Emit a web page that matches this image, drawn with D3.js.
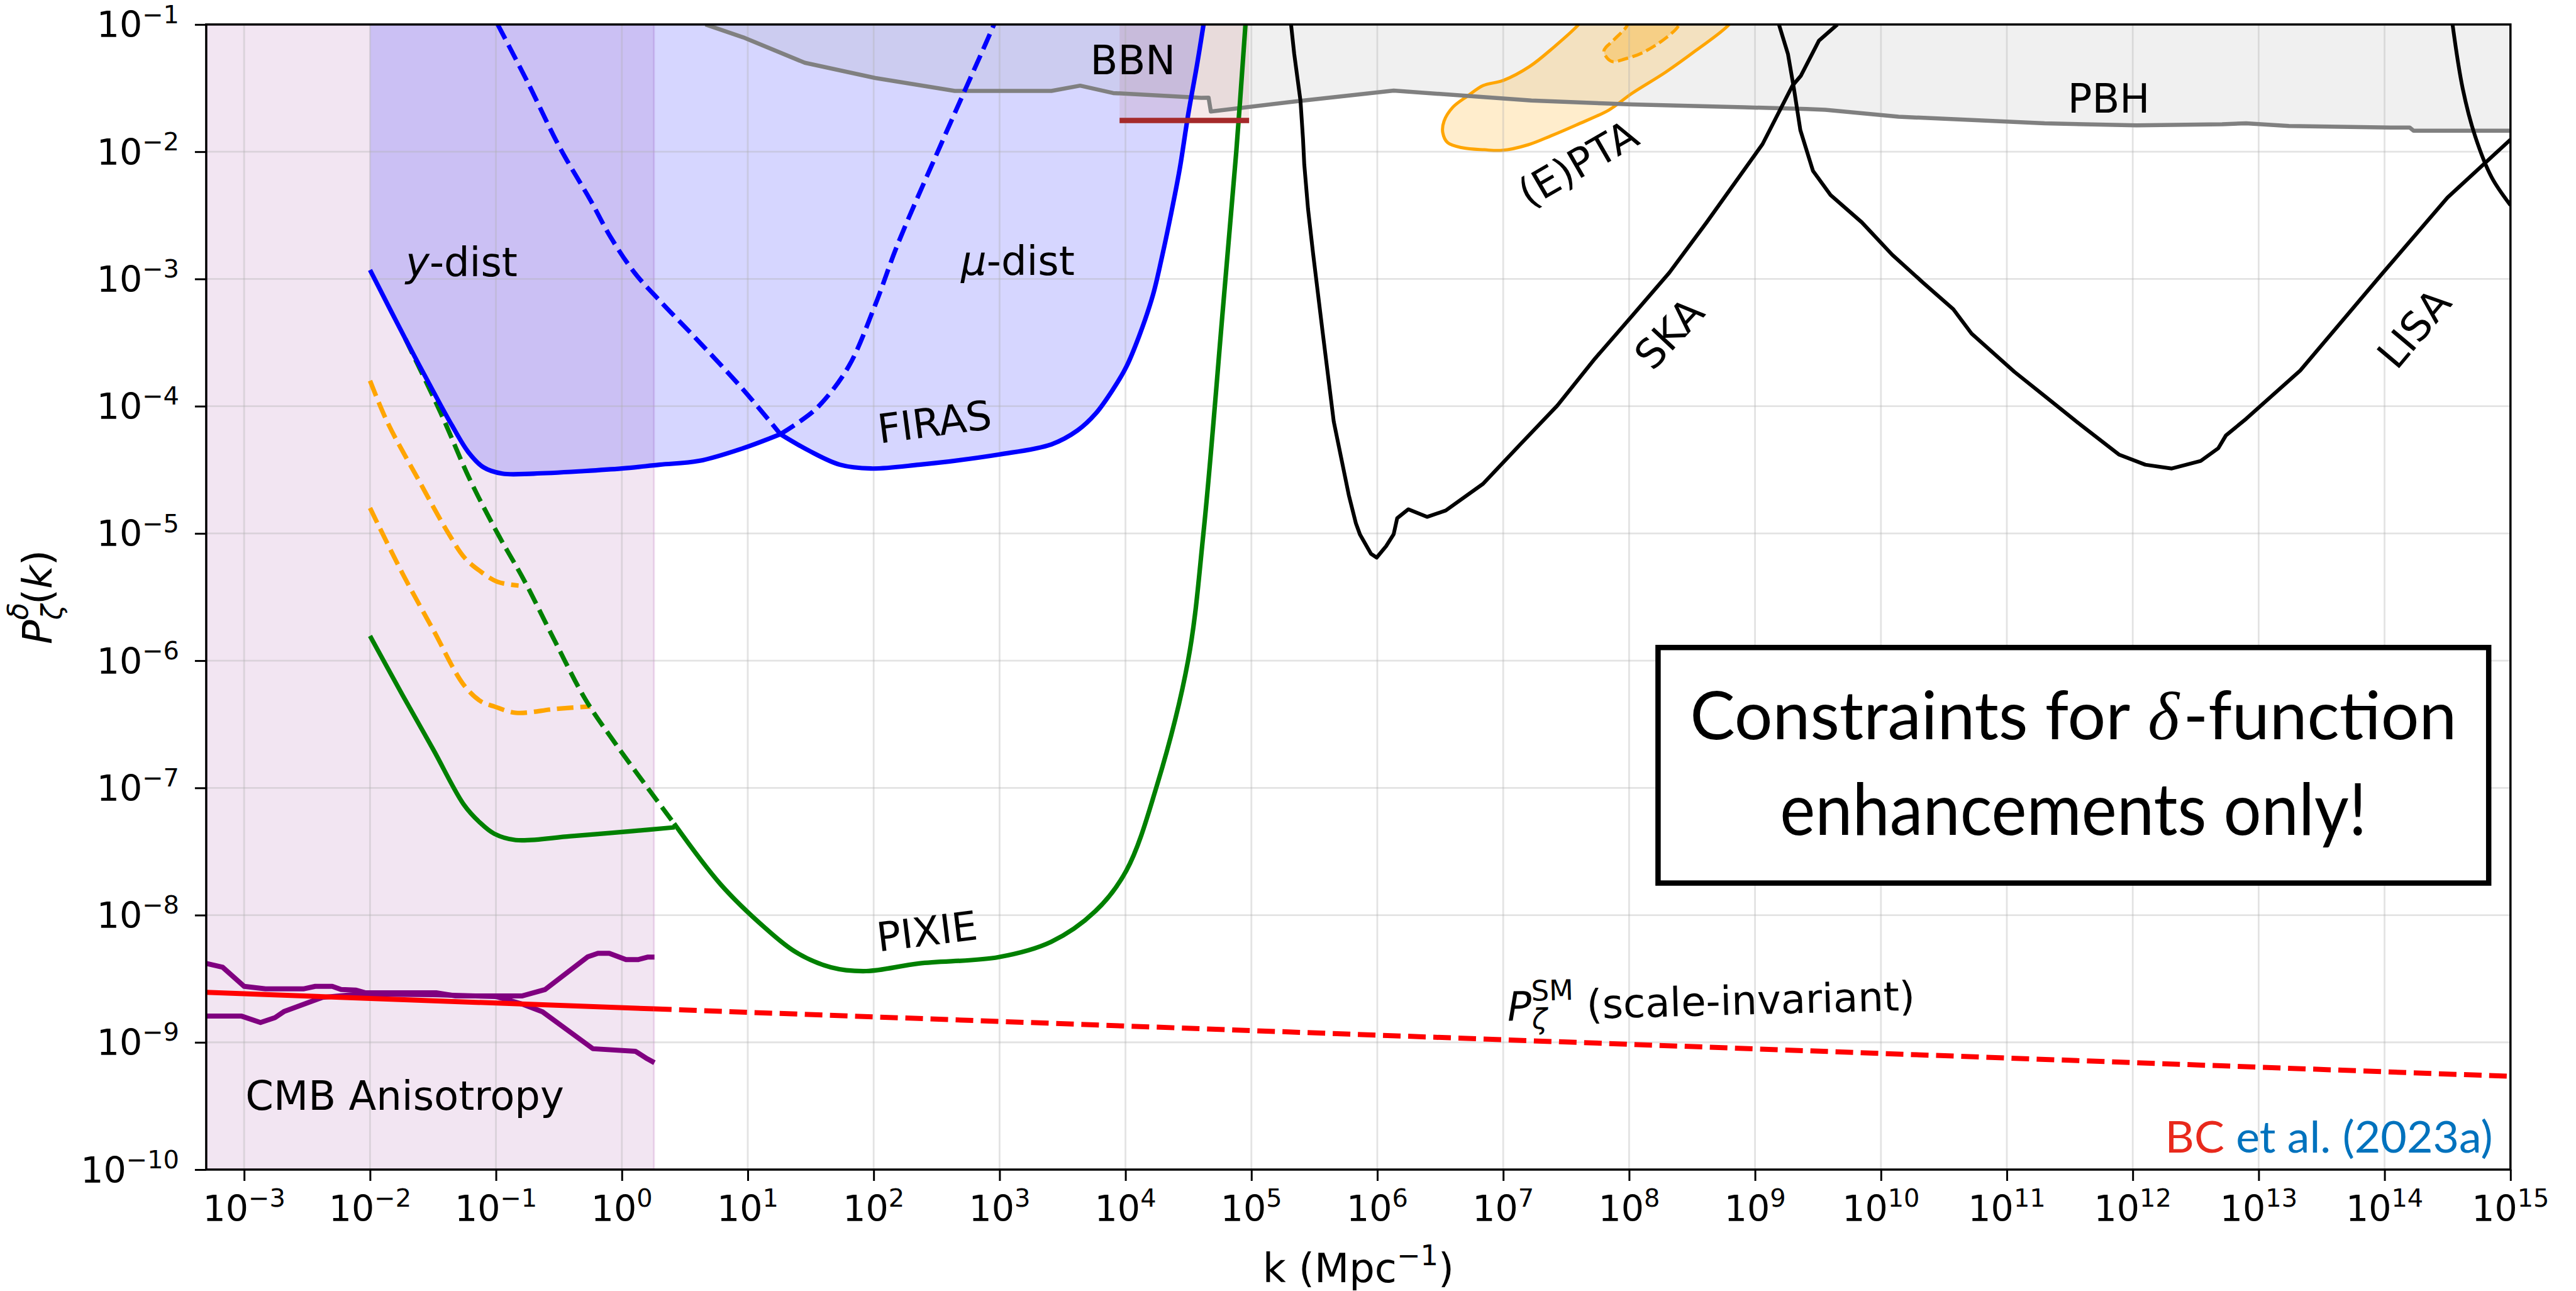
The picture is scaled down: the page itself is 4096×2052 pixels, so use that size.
<!DOCTYPE html>
<html><head><meta charset="utf-8">
<script src="https://cdn.jsdelivr.net/npm/d3@7/dist/d3.min.js"></script>
<style>html,body{margin:0;padding:0;background:#fff;} svg{display:block;}</style>
</head><body>
<script>
// ---------------- DATA (all pairs are [log10 k (Mpc^-1), log10 P]) ----------------
const xTickExp = [-3,-2,-1,0,1,2,3,4,5,6,7,8,9,10,11,12,13,14,15];
const yTickExp = [-10,-9,-8,-7,-6,-5,-4,-3,-2,-1];
const kDomain = [5e-4, 1e15];
const pDomain = [1e-10, 1e-1];

const cmbBand = [-3.301, 0.255];            // CMB anisotropy shaded k-range
const bbnBand = [3.953, 4.982];             // BBN k-range
const bbnLimit = -1.754;                    // BBN upper bound

const firasY = [[-2.0,-2.93],[-1.72,-3.47],[-1.44,-3.99],[-1.35,-4.15],[-1.22,-4.36],[-1.1,-4.48],[-0.95,-4.53],[-0.7,-4.53],[-0.3,-4.51],[0.0,-4.49],[0.3,-4.46],[0.613,-4.43],[0.964,-4.33],[1.259,-4.22]];
const firasYDash = [[1.259,-4.22],[1.40,-4.13],[1.559,-4.005],[1.80,-3.69],[2.01,-3.21],[2.19,-2.73],[2.54,-1.93],[2.71,-1.55],[2.89,-1.15],[2.956,-1.0]];
const firasMuDash = [[-0.986,-1.0],[-0.75,-1.45],[-0.497,-1.96],[-0.25,-2.38],[-0.09,-2.67],[0.1,-2.95],[0.3,-3.17],[0.6,-3.48],[0.964,-3.87],[1.259,-4.22]];
const firasMu = [[1.259,-4.22],[1.487,-4.35],[1.732,-4.46],[1.977,-4.49],[2.361,-4.46],[2.994,-4.38],[3.412,-4.30],[3.62,-4.19],[3.762,-4.06],[3.90,-3.87],[4.007,-3.69],[4.11,-3.445],[4.218,-3.127],[4.288,-2.835],[4.357,-2.513],[4.43,-2.14],[4.497,-1.714],[4.569,-1.313],[4.62,-1.0]];

const pixieY = [[-2.0,-5.806],[-1.742,-6.27],[-1.497,-6.70],[-1.256,-7.13],[-1.13,-7.27],[-1.014,-7.36],[-0.843,-7.41],[-0.408,-7.38],[0.077,-7.34],[0.42,-7.31]];
const pixieDash = [[-1.72,-3.47],[-1.44,-4.05],[-1.21,-4.57],[-0.99,-4.995],[-0.77,-5.38],[-0.53,-5.85],[-0.286,-6.31],[-0.045,-6.66],[0.22,-7.02],[0.415,-7.28]];
const pixieMain = [[0.415,-7.28],[0.786,-7.76],[1.137,-8.10],[1.38,-8.29],[1.66,-8.41],[1.94,-8.44],[2.36,-8.38],[2.994,-8.33],[3.41,-8.21],[3.76,-7.97],[4.007,-7.65],[4.25,-6.98],[4.497,-6.0],[4.62,-4.99],[4.776,-3.21],[4.88,-2.0],[4.953,-1.0]];
const orangeUpper = [[-2.0,-3.80],[-1.86,-4.13],[-1.62,-4.57],[-1.38,-4.995],[-1.25,-5.19],[-1.135,-5.29],[-0.99,-5.38],[-0.82,-5.41]];
const orangeLower = [[-2.0,-4.80],[-1.742,-5.315],[-1.497,-5.76],[-1.256,-6.19],[-1.12,-6.32],[-1.014,-6.36],[-0.843,-6.41],[-0.53,-6.38],[-0.25,-6.36]];

const cmbUpper = [[-3.3,-8.38],[-3.17,-8.41],[-3.0,-8.56],[-2.83,-8.58],[-2.53,-8.58],[-2.435,-8.56],[-2.30,-8.56],[-2.23,-8.585],[-2.11,-8.59],[-2.04,-8.61],[-1.475,-8.61],[-1.32,-8.635],[-0.79,-8.635],[-0.61,-8.585],[-0.27,-8.327],[-0.19,-8.30],[-0.10,-8.30],[0.033,-8.35],[0.128,-8.35],[0.203,-8.33],[0.259,-8.33]];
const cmbLower = [[-3.3,-8.794],[-3.02,-8.794],[-2.87,-8.844],[-2.755,-8.806],[-2.68,-8.756],[-2.38,-8.647],[-2.08,-8.62],[-1.5,-8.625],[-1.0,-8.64],[-0.79,-8.70],[-0.63,-8.76],[-0.23,-9.05],[0.107,-9.07],[0.203,-9.13],[0.259,-9.16]];
const smSolid = [[-3.301,-8.607],[0.255,-8.737]];
const smDashed = [[0.255,-8.737],[15.0,-9.267]];

const pbh = [[0.664,-1.0],[0.963,-1.101],[1.453,-1.301],[2.013,-1.421],[2.644,-1.522],[3.412,-1.522],[3.64,-1.481],[3.902,-1.539],[4.602,-1.577],[4.66,-1.575],[4.678,-1.684],[5.337,-1.606],[6.13,-1.52],[7.224,-1.598],[7.79,-1.62],[8.026,-1.629],[8.913,-1.651],[9.41,-1.664],[9.558,-1.671],[10.14,-1.725],[11.30,-1.777],[12.03,-1.793],[12.71,-1.784],[12.9,-1.777],[13.24,-1.798],[14.05,-1.81],[14.2,-1.81],[14.23,-1.835],[15.0,-1.835]];

const ska = [[5.315,-1.0],[5.34,-1.23],[5.39,-1.6],[5.41,-1.9],[5.42,-2.1],[5.45,-2.45],[5.49,-2.80],[5.565,-3.41],[5.654,-4.12],[5.774,-4.70],[5.83,-4.92],[5.863,-5.01],[5.95,-5.16],[5.995,-5.19],[6.07,-5.10],[6.13,-5.006],[6.158,-4.88],[6.247,-4.81],[6.395,-4.87],[6.544,-4.82],[6.84,-4.61],[7.136,-4.30],[7.43,-3.995],[7.728,-3.627],[8.024,-3.29],[8.32,-2.95],[8.616,-2.555],[9.06,-1.94],[9.298,-1.48],[9.363,-1.405],[9.507,-1.128],[9.654,-1.0]];
const lisa = [[9.19,-1.0],[9.262,-1.234],[9.31,-1.51],[9.36,-1.83],[9.46,-2.15],[9.6,-2.34],[9.848,-2.555],[10.09,-2.81],[10.33,-3.025],[10.575,-3.238],[10.72,-3.43],[11.06,-3.73],[11.30,-3.92],[11.59,-4.15],[11.89,-4.38],[12.1,-4.46],[12.31,-4.49],[12.54,-4.43],[12.68,-4.33],[12.74,-4.23],[12.9,-4.1],[13.33,-3.72],[13.98,-2.96],[14.5,-2.36],[15.0,-1.905]];
const lisaEdge = [[14.54,-1.0],[14.62,-1.5],[14.72,-1.88],[14.85,-2.2],[15.0,-2.42]];

const ptaOuter = [[7.72,-0.85],[7.6,-1.0],[7.4,-1.18],[7.21,-1.33],[7.0,-1.44],[6.84,-1.48],[6.72,-1.56],[6.6,-1.65],[6.53,-1.76],[6.52,-1.85],[6.56,-1.93],[6.68,-1.97],[6.85,-1.985],[6.99,-1.99],[7.2,-1.945],[7.38,-1.875],[7.58,-1.79],[7.84,-1.672],[8.02,-1.543],[8.29,-1.375],[8.53,-1.205],[8.795,-1.0],[8.9,-0.85]];
const ptaInner = [[8.02,-0.85],[7.99,-1.0],[7.88,-1.12],[7.80,-1.21],[7.86,-1.29],[7.97,-1.27],[8.11,-1.22],[8.3,-1.1],[8.4,-1.0],[8.45,-0.85]];

// ---------------- LAYOUT ----------------
const W = 4096, H = 2052;
const L = 327.9, R = 3991.8, T = 38.9, B = 1859;
const FS_TICK = 57, FS_LAB = 64;
const TXT = "DejaVu Sans";

const svg = d3.select("body").append("svg").attr("width", W).attr("height", H)
  .style("font-family", TXT);
svg.append("rect").attr("width", W).attr("height", H).attr("fill", "#fff");

const x = d3.scaleLog().domain(kDomain).range([L, R]);
const y = d3.scaleLog().domain(pDomain).range([B, T]);
const p10 = v => Math.pow(10, v);
const X = d => x(p10(d[0])), Y = d => y(p10(d[1]));

svg.append("defs").append("clipPath").attr("id", "clip")
  .append("rect").attr("x", L).attr("y", T).attr("width", R - L).attr("height", B - T);
const plot = svg.append("g").attr("clip-path", "url(#clip)");

const CR = d3.curveCatmullRom.alpha(0.5);

// ---- fills ----
plot.append("rect")
  .attr("x", x(p10(cmbBand[0]))).attr("y", T)
  .attr("width", x(p10(cmbBand[1])) - x(p10(cmbBand[0]))).attr("height", B - T)
  .attr("fill", "rgba(128,0,128,0.1)").attr("stroke", "rgba(128,0,128,0.13)").attr("stroke-width", 3);

const envelope = firasY.concat(firasMu.slice(1));
plot.append("path")
  .attr("d", d3.area().x(X).y0(y(pDomain[1])).y1(Y).curve(CR)(envelope))
  .attr("fill", "rgba(0,0,255,0.16)");

plot.append("path")
  .attr("d", d3.area().x(X).y0(y(pDomain[1])).y1(Y)(pbh))
  .attr("fill", "rgba(128,128,128,0.12)");

plot.append("rect")
  .attr("x", x(p10(bbnBand[0]))).attr("y", T)
  .attr("width", x(p10(bbnBand[1])) - x(p10(bbnBand[0])))
  .attr("height", y(p10(bbnLimit)) - T)
  .attr("fill", "rgba(165,42,42,0.1)");

const lineLin = d3.line().x(X).y(Y);
const lineSmooth = d3.line().x(X).y(Y).curve(CR);

plot.append("path").attr("d", lineSmooth(ptaOuter) + "Z")
  .attr("fill", "rgba(255,165,0,0.2)").attr("stroke", "#ffa500").attr("stroke-width", 5);
plot.append("path").attr("d", lineSmooth(ptaInner) + "Z")
  .attr("fill", "rgba(255,165,0,0.3)").attr("stroke", "#ffa500").attr("stroke-width", 5)
  .attr("stroke-dasharray", "17,7");

// ---- grid ----
const grid = plot.append("g").attr("stroke", "#b0b0b0").attr("stroke-opacity", 0.35).attr("stroke-width", 2.8);
xTickExp.forEach(e => grid.append("line").attr("x1", x(p10(e))).attr("x2", x(p10(e))).attr("y1", T).attr("y2", B));
yTickExp.forEach(e => grid.append("line").attr("y1", y(p10(e))).attr("y2", y(p10(e))).attr("x1", L).attr("x2", R));

// ---- lines ----
function draw(data, gen, color, width, dash) {
  const p = plot.append("path").attr("d", gen(data)).attr("fill", "none")
    .attr("stroke", color).attr("stroke-width", width).attr("stroke-linejoin", "round");
  if (dash) p.attr("stroke-dasharray", dash);
  return p;
}
const DASH = "26,11";
draw(pbh, lineLin, "#808080", 6.5);
draw(cmbUpper, lineLin, "#800080", 8);
draw(cmbLower, lineLin, "#800080", 8);
draw(smSolid, lineLin, "#ff0000", 8);
draw(smDashed, lineLin, "#ff0000", 8, "28,12");
draw(orangeUpper, lineSmooth, "#ffa500", 7.2, DASH);
draw(orangeLower, lineSmooth, "#ffa500", 7.2, DASH);
draw(pixieDash, lineSmooth, "#008000", 7.2, DASH);
draw(pixieY, lineSmooth, "#008000", 7.2);
draw(pixieMain, lineSmooth, "#008000", 7.2);
draw(firasMuDash, lineSmooth, "#0000ff", 7.2, DASH);
draw(firasYDash, lineSmooth, "#0000ff", 7.2, DASH);
draw(firasY, lineSmooth, "#0000ff", 7.2);
draw(firasMu, lineSmooth, "#0000ff", 7.2);
draw(ska, lineLin, "#000", 6);
draw(lisa, lineLin, "#000", 6);
draw(lisaEdge, lineSmooth, "#000", 6);
plot.append("line")
  .attr("x1", x(p10(bbnBand[0]))).attr("x2", x(p10(bbnBand[1])))
  .attr("y1", y(p10(bbnLimit))).attr("y2", y(p10(bbnLimit)))
  .attr("stroke", "#a52a2a").attr("stroke-width", 8.5);

// ---- axes ----
const axB = svg.append("g").attr("transform", `translate(0,${B})`)
  .call(d3.axisBottom(x).tickValues(xTickExp.map(p10)).tickSize(18).tickFormat(""));
const axL = svg.append("g").attr("transform", `translate(${L},0)`)
  .call(d3.axisLeft(y).tickValues(yTickExp.map(p10)).tickSize(18).tickFormat(""));
[axB, axL].forEach(a => { a.select(".domain").remove(); a.selectAll("line").attr("stroke", "#000").attr("stroke-width", 3); });
svg.append("rect").attr("x", L).attr("y", T).attr("width", R - L).attr("height", B - T)
  .attr("fill", "none").attr("stroke", "#000").attr("stroke-width", 3.5);

function pow10Label(t, e, fs) {
  t.append("tspan").text("10");
  t.append("tspan").attr("dy", -0.4 * fs).attr("font-size", 0.7 * fs)
    .text(e < 0 ? "\u2212" + (-e) : String(e));
}
xTickExp.forEach(e => {
  const t = svg.append("text").attr("x", x(p10(e))).attr("y", 1941)
    .attr("text-anchor", "middle").attr("font-size", FS_TICK);
  pow10Label(t, e, FS_TICK);
});
yTickExp.forEach(e => {
  const t = svg.append("text").attr("x", 285).attr("y", y(p10(e)) + 0.36 * FS_TICK)
    .attr("text-anchor", "end").attr("font-size", FS_TICK);
  pow10Label(t, e, FS_TICK);
});

// axis labels
{
  const t = svg.append("text").attr("x", (L + R) / 2).attr("y", 2038)
    .attr("text-anchor", "middle").attr("font-size", FS_LAB);
  t.append("tspan").text("k (Mpc");
  t.append("tspan").attr("dy", -0.42 * FS_LAB).attr("font-size", 0.7 * FS_LAB).text("\u22121");
  t.append("tspan").attr("dy", 0.42 * FS_LAB).text(")");
}
function measure(str, fs, style, family) {
  const t = svg.append("text").attr("font-size", fs).attr("font-style", style || "normal")
    .attr("font-family", family || TXT).text(str);
  const w = t.node().getComputedTextLength(); t.remove(); return w;
}
{
  const fs = 64;
  const g = svg.append("g").attr("transform", `translate(82,${(T + B) / 2}) rotate(-90)`);
  const t = g.append("text").attr("text-anchor", "middle").attr("font-size", fs);
  const wd = measure("\u03b4", 0.7 * fs, "italic");
  t.append("tspan").attr("font-style", "italic").text("P");
  t.append("tspan").attr("font-style", "italic").attr("font-size", 0.7 * fs).attr("dy", -0.6 * fs).text("\u03b4");
  t.append("tspan").attr("font-style", "italic").attr("font-size", 0.7 * fs).attr("dx", -wd).attr("dy", 0.85 * fs).text("\u03b6");
  t.append("tspan").attr("dy", -0.25 * fs).text("(");
  t.append("tspan").attr("font-style", "italic").text("k");
  t.append("tspan").text(")");
}

// ---- in-plot labels ----
function lab(lk, lp, opts) {
  opts = opts || {};
  const px = x(p10(lk)), py = y(p10(lp));
  const t = svg.append("text").attr("font-size", FS_LAB)
    .attr("text-anchor", opts.anchor || "start")
    .attr("transform", `translate(${px},${py}) rotate(${opts.rot || 0})`);
  if (opts.central) t.attr("dominant-baseline", "central");
  return t;
}
{ const t = lab(-1.717, -2.978); t.append("tspan").attr("font-style", "italic").text("y"); t.append("tspan").text("-dist"); }
{ const t = lab(2.694, -2.967); t.append("tspan").attr("font-style", "italic").text("\u03bc"); t.append("tspan").text("-dist"); }
lab(3.72, -1.39).text("BBN");
lab(11.81, -1.692, {anchor: "middle"}).text("PBH");
lab(2.484, -4.126, {anchor: "middle", central: true, rot: -7.5}).text("FIRAS");
lab(2.424, -8.13, {anchor: "middle", central: true, rot: -7}).text("PIXIE");
lab(8.32, -3.43, {anchor: "middle", central: true, rot: -47}).text("SKA");
lab(7.595, -2.095, {anchor: "middle", central: true, rot: -30}).text("(E)PTA");
lab(14.237, -3.39, {anchor: "middle", central: true, rot: -50}).text("LISA");
lab(-2.989, -9.53).text("CMB Anisotropy");
{
  const t = lab(7.035, -8.83, {rot: -1.5});
  const wz = measure("\u03b6", 0.7 * FS_LAB, "italic");
  t.append("tspan").attr("font-style", "italic").text("P");
  t.append("tspan").attr("font-style", "italic").attr("font-size", 0.7 * FS_LAB).attr("dy", 0.22 * FS_LAB).text("\u03b6");
  t.append("tspan").attr("font-size", 0.7 * FS_LAB).attr("dx", -wz).attr("dy", -0.7 * FS_LAB).text("SM");
  t.append("tspan").attr("dy", 0.48 * FS_LAB).text(" (scale-invariant)");
}

// ---- boxed note ----
svg.append("rect").attr("x", 2636.4).attr("y", 1029.2).attr("width", 1320.8).attr("height", 374.4)
  .attr("fill", "#fff").attr("stroke", "#000").attr("stroke-width", 8.5);
{
  // first line built from separate pieces laid out side by side
  const fs0 = 114, targetW = 1219, cx = 3296.8, base = 1175;
  const parts = [
    {s: "Constraints for", fam: "Lato", st: "normal", gapAfter: 0.26},
    {s: "\u03b4", fam: "Liberation Serif", st: "italic", gapAfter: 0.06},
    {s: "-function", fam: "Lato", st: "normal", gapAfter: 0}
  ];
  let total = 0;
  parts.forEach(p => { p.w = measure(p.s, fs0, p.st, p.fam); total += p.w + p.gapAfter * fs0; });
  const k = targetW / total, fs = fs0 * k;
  let cur = cx - targetW / 2;
  parts.forEach(p => {
    svg.append("text").attr("x", cur).attr("y", base).attr("font-family", p.fam)
      .attr("font-style", p.st).attr("font-size", fs).text(p.s);
    cur += (p.w + p.gapAfter * fs0) * k;
  });
  svg.append("text").attr("x", cx).attr("y", 1327).attr("text-anchor", "middle")
    .attr("font-family", "Lato").attr("font-size", 114)
    .attr("textLength", 933).attr("lengthAdjust", "spacingAndGlyphs")
    .text("enhancements only!");
}
{
  const t = svg.append("text").attr("x", 3963.6).attr("y", 1831.7).attr("text-anchor", "end")
    .attr("font-family", "Lato").attr("font-size", 70)
    .attr("textLength", 521).attr("lengthAdjust", "spacingAndGlyphs");
  t.append("tspan").attr("fill", "#e8291c").text("BC ");
  t.append("tspan").attr("fill", "#0072bd").text("et al. (2023a)");
}
</script>
</body></html>
